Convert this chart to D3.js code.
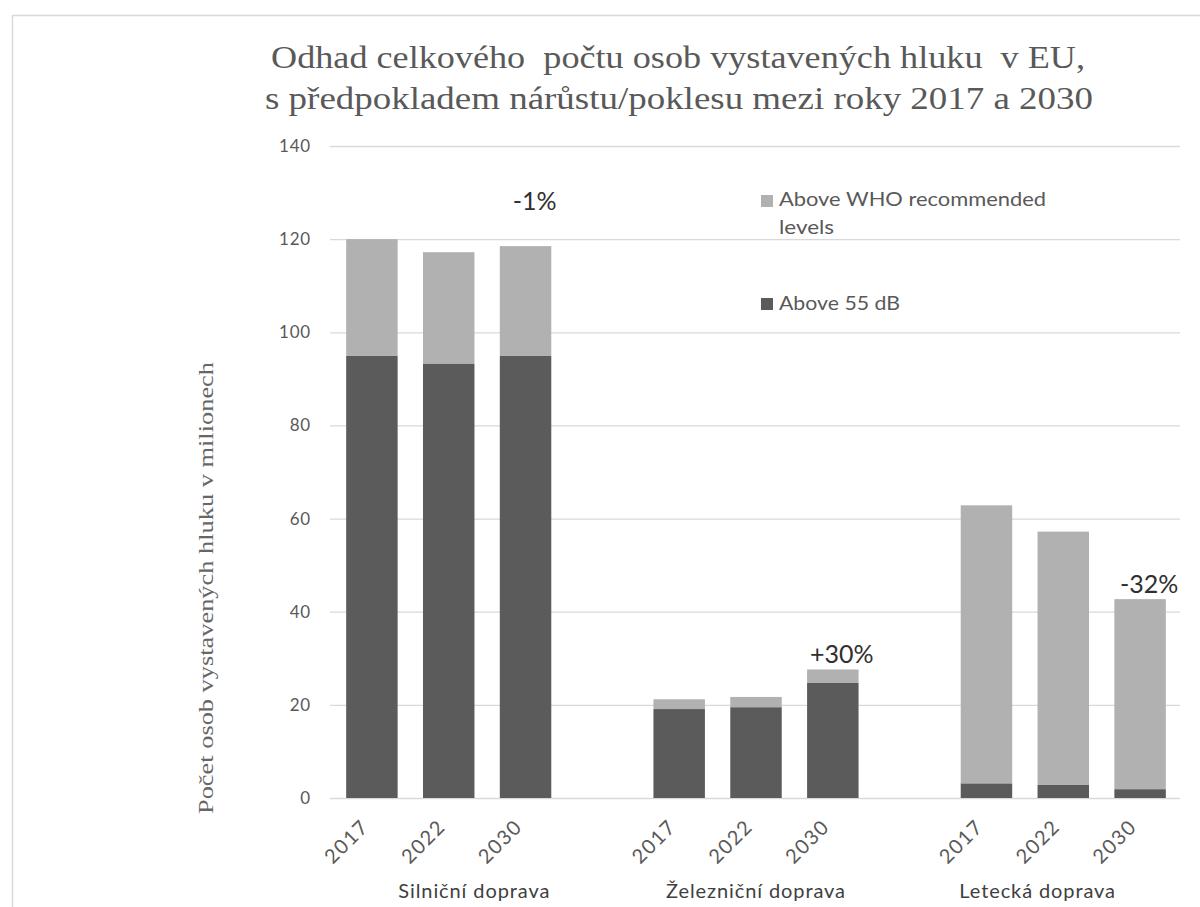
<!DOCTYPE html>
<html>
<head>
<meta charset="utf-8">
<script src="https://cdn.jsdelivr.net/npm/d3@7"></script>
<style>
  html, body { margin: 0; padding: 0; background: #fff; }
  svg { display: block; }
</style>
</head>
<body>
<svg id="chart" width="1200" height="907"></svg>
<script>
// ---- data ----
const groups = ["Silniční doprava", "Železniční doprava", "Letecká doprava"];
const years = ["2017", "2022", "2030"];
const above55 = [
  [95.0, 93.3, 95.0],
  [19.1, 19.5, 24.7],
  [3.15, 2.8, 1.9]
];
const aboveWHO = [
  [25.0, 23.9, 23.5],
  [2.1, 2.2, 2.9],
  [59.7, 54.4, 40.8]
];
const changeLabels = ["-1%", "+30%", "-32%"];
const yTicks = [0, 20, 40, 60, 80, 100, 120, 140];
const seriesNames = ["Above WHO recommended levels", "Above 55 dB"];
const titleLines = [
  "Odhad celkového  počtu osob vystavených hluku  v EU,",
  "s předpokladem nárůstu/poklesu mezi roky 2017 a 2030"
];
const yTitle = "Počet osob vystavených hluku v milionech";

// ---- setup ----
const svg = d3.select("#chart");
const DARK = "#5b5b5b", LIGHT = "#b1b1b1";
const sans = "Lato, 'Open Sans', sans-serif";
const serif = "'Liberation Serif', 'Times New Roman', serif";

// frame
svg.append("rect").attr("x", 12.5).attr("y", 15.5).attr("width", 1200).attr("height", 900)
  .attr("fill", "none").attr("stroke", "#d9d9d9").attr("stroke-width", 1.5);

// slots: years per group, spacer between groups
const slots = [];
groups.forEach((g, gi) => {
  years.forEach(yr => slots.push(g + "|" + yr));
  if (gi < groups.length - 1) slots.push("gap" + gi);
});

const x = d3.scaleBand().domain(slots).range([333.5, 1178.5]).paddingInner(0.33).paddingOuter(0.165);
const y = d3.scaleLinear().domain([0, 140]).range([798, 146]);

// gridlines
const yAxis = d3.axisLeft(y).tickValues(yTicks).tickSize(-(1180 - 330)).tickPadding(14);
const gy = svg.append("g").attr("transform", "translate(330,0)").call(yAxis);
gy.select(".domain").remove();
gy.selectAll(".tick line").attr("stroke", "#d9d9d9").attr("stroke-width", 1.3);
gy.selectAll(".tick text").attr("fill", "#595959").style("font-family", sans)
  .style("font-size", "17px").attr("letter-spacing", "0.8px").attr("x", -19);

// bars
const records = [];
groups.forEach((g, gi) => years.forEach((yr, yi) => {
  records.push({ key: g + "|" + yr, g: gi, yi, d55: above55[gi][yi], who: aboveWHO[gi][yi] });
}));

const bars = svg.append("g");
bars.selectAll(".dark").data(records).join("rect")
  .attr("x", d => x(d.key)).attr("width", x.bandwidth())
  .attr("y", d => y(d.d55)).attr("height", d => y(0) - y(d.d55))
  .attr("fill", DARK);
bars.selectAll(".light").data(records).join("rect")
  .attr("x", d => x(d.key)).attr("width", x.bandwidth())
  .attr("y", d => y(d.d55 + d.who)).attr("height", d => y(d.d55) - y(d.d55 + d.who))
  .attr("fill", LIGHT);

// change labels above 2030 bars (road label sits higher, clear of the bar)
groups.forEach((g, gi) => {
  const k = g + "|" + years[2];
  const tot = above55[gi][2] + aboveWHO[gi][2];
  const cx = x(k) + x.bandwidth() / 2 + 9;
  const cy = y(tot) - 6 - (gi === 0 ? 30 : 0);
  svg.append("text").attr("x", cx).attr("y", cy).attr("text-anchor", "middle")
    .style("font-family", sans).style("font-size", "25px").attr("fill", "#303030")
    .text(changeLabels[gi]);
});

// x year labels
records.forEach(d => {
  const cx = x(d.key) + x.bandwidth() / 2;
  svg.append("text")
    .attr("transform", `translate(${cx - 2},${828}) rotate(-45)`)
    .attr("text-anchor", "end")
    .style("font-family", sans).style("font-size", "20px").attr("letter-spacing", "1.5px")
    .attr("fill", "#595959").text(years[d.yi]);
});

// group labels: centred in equal thirds of the category axis
const [r0, r1] = x.range();
groups.forEach((g, gi) => {
  const c = r0 + (gi + 0.5) * (r1 - r0) / groups.length;
  svg.append("text").attr("x", c).attr("y", 898).attr("text-anchor", "middle")
    .style("font-family", sans).style("font-size", "20px").attr("letter-spacing", "0.9px")
    .attr("fill", "#404040").text(g);
});

// title
const tl = [{ x: 271, y: 68, w: 814 }, { x: 265, y: 109, w: 828 }];
titleLines.forEach((t, i) => {
  svg.append("text").attr("x", tl[i].x).attr("y", tl[i].y)
    .attr("textLength", tl[i].w).attr("lengthAdjust", "spacingAndGlyphs")
    .style("font-family", serif).style("font-size", "31px").attr("fill", "#595959")
    .style("white-space", "pre")
    .text(t);
});

// y-axis title
svg.append("text").attr("transform", "translate(213,588) rotate(-90)")
  .attr("text-anchor", "middle").attr("textLength", 452).attr("lengthAdjust", "spacingAndGlyphs")
  .style("font-family", serif).style("font-size", "20px").attr("fill", "#666666")
  .text(yTitle);

// legend
const lg = svg.append("g").style("font-family", sans).style("font-size", "19px").attr("fill", "#595959");
lg.append("rect").attr("x", 761).attr("y", 195).attr("width", 12).attr("height", 12).attr("fill", LIGHT);
lg.append("text").attr("x", 779).attr("y", 206).attr("textLength", 267).attr("lengthAdjust", "spacingAndGlyphs")
  .text("Above WHO recommended");
lg.append("text").attr("x", 779).attr("y", 234).attr("textLength", 55).attr("lengthAdjust", "spacingAndGlyphs")
  .text("levels");
lg.append("rect").attr("x", 761).attr("y", 298).attr("width", 12).attr("height", 12).attr("fill", DARK);
lg.append("text").attr("x", 779).attr("y", 310).attr("textLength", 121).attr("lengthAdjust", "spacingAndGlyphs")
  .text(seriesNames[1]);
</script>
</body>
</html>
